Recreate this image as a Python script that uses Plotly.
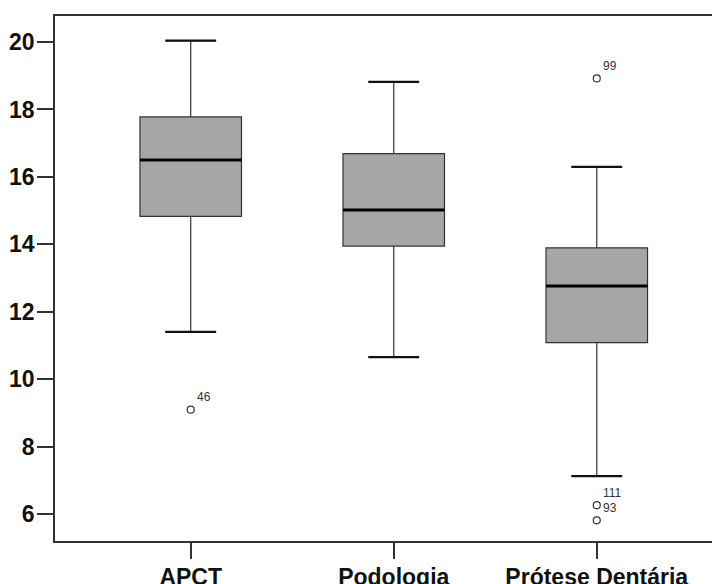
import plotly.graph_objects as go

categories = ["APCT", "Podologia", "Prótese Dentária"]
lower_whisker = [11.41, 10.66, 7.13]
q1 = [14.83, 13.95, 11.09]
median = [16.50, 15.02, 12.77]
q3 = [17.78, 16.69, 13.90]
upper_whisker = [20.04, 18.82, 16.30]

outlier_group = [0, 2, 2, 2]
outlier_value = [9.10, 18.92, 6.27, 5.82]
outlier_label = ["46", "99", "111", "93"]

ytick_vals = [6, 8, 10, 12, 14, 16, 18, 20]

BOX_W = 0.5
CAP_W = 0.25
xpos = list(range(len(categories)))

fig = go.Figure()
fig.add_trace(go.Box(
    x=xpos, q1=q1, median=median, q3=q3,
    lowerfence=lower_whisker, upperfence=upper_whisker,
    width=BOX_W, whiskerwidth=0.5,
    fillcolor="#a6a6a6", line=dict(color="#333333", width=1.2),
    boxpoints=False, showlegend=False, hoverinfo="skip",
))

# thicker median lines
for i, m in enumerate(median):
    fig.add_trace(go.Scatter(
        x=[i - BOX_W / 2, i + BOX_W / 2], y=[m, m], mode="lines",
        line=dict(color="#000000", width=3), showlegend=False, hoverinfo="skip"))
# whisker caps
for i in range(len(categories)):
    for v in (lower_whisker[i], upper_whisker[i]):
        fig.add_trace(go.Scatter(
            x=[i - CAP_W / 2, i + CAP_W / 2], y=[v, v], mode="lines",
            line=dict(color="#111111", width=2.2), showlegend=False, hoverinfo="skip"))

fig.add_trace(go.Scatter(
    x=outlier_group, y=outlier_value, mode="markers",
    marker=dict(symbol="circle-open", size=7, color="#333333", line=dict(width=1.2)),
    showlegend=False, hoverinfo="skip"))

for g, v, lab in zip(outlier_group, outlier_value, outlier_label):
    fig.add_annotation(x=g, y=v, text=lab, showarrow=False,
                       xanchor="left", yanchor="middle", xshift=4, yshift=12.5,
                       font=dict(family="Liberation Sans, Arial", size=12, color="#333333"))

fig.update_layout(
    width=712, height=576,
    margin=dict(l=47, r=0, t=8, b=43, autoexpand=False),
    paper_bgcolor="white", plot_bgcolor="white",
    font=dict(family="Liberation Sans, Arial", color="#111111"),
)
fig.update_xaxes(
    range=[-0.6685, 2.607], tickvals=xpos, ticktext=[f"<b>{c}</b>" for c in categories],
    showline=True, linecolor="#333333", linewidth=1.5, mirror=True,
    ticks="outside", ticklen=16, tickcolor="#333333", tickwidth=1.5,
    tickfont=dict(size=23, color="#111111"), showgrid=False, zeroline=False,
    ticklabelstandoff=-1, automargin=False,
)
fig.update_yaxes(
    range=[5.208, 20.771], tickvals=ytick_vals, ticktext=[f"<b>{v}</b>" for v in ytick_vals],
    showline=True, linecolor="#333333", linewidth=1.5, mirror=False,
    ticks="outside", ticklen=16, tickcolor="#333333", tickwidth=1.5,
    tickfont=dict(size=23, color="#111111"), showgrid=False, zeroline=False,
    ticklabelstandoff=-2, automargin=False,
)

fig.write_html("out.html")
